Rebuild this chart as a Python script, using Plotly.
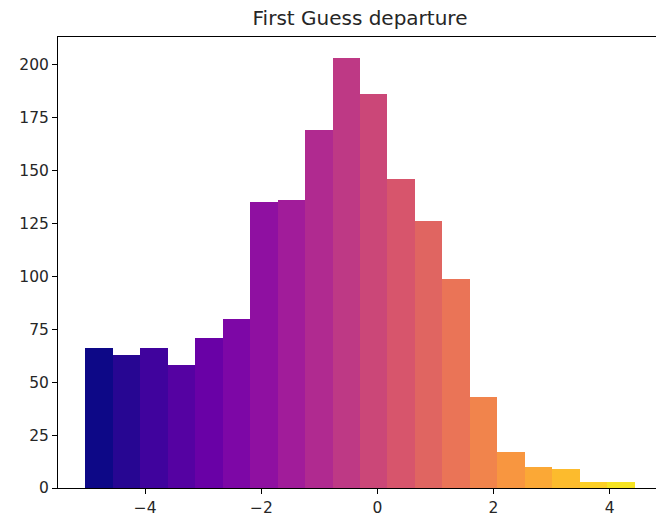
import numpy as np
import plotly.graph_objects as go
from plotly.colors import sample_colorscale

# Data
counts = [66, 63, 66, 58, 71, 80, 135, 136, 169, 203, 186, 146, 126, 99, 43, 17, 10, 9, 3, 3]
edge_min = -5.03
edge_max = 4.43
x_ticks = [-4, -2, 0, 2, 4]
x_tick_labels = ["−4", "−2", "0", "2", "4"]
y_ticks = [0, 25, 50, 75, 100, 125, 150, 175, 200]
title_text = "First Guess departure"

edges = np.linspace(edge_min, edge_max, len(counts) + 1)
centers = (edges[:-1] + edges[1:]) / 2
widths = np.diff(edges)
norm = [i / len(counts) for i in range(len(counts))]
colors = sample_colorscale("Plasma", norm)

binw = widths[0]
x_lo = edge_min - binw
# matplotlib-like 5% margin; plot is cropped on the right in the reference
x_hi = x_lo + (edge_max + binw - x_lo) * 598 / 604

fig = go.Figure(go.Bar(
    x=centers, y=counts, width=widths,
    marker=dict(color=colors, line=dict(width=0)),
    hoverinfo="x+y",
))

font = dict(family="DejaVu Sans", size=15.5, color="#262626")
fig.update_layout(
    width=656, height=515,
    margin=dict(l=58, r=0, t=37, b=27, autoexpand=False),
    paper_bgcolor="white", plot_bgcolor="white",
    showlegend=False, bargap=0,
    font=font,
    title=dict(text=title_text, x=(360 - 58) / 598, xref="paper", xanchor="center",
               y=1 - 18 / 515, yanchor="middle",
               font=dict(family="DejaVu Sans", size=20, color="#262626")),
)
fig.update_xaxes(
    range=[x_lo, x_hi], tickvals=x_ticks, ticktext=x_tick_labels, automargin=False,
    showgrid=False, zeroline=False, showline=True, linecolor="black", linewidth=1,
    mirror=True, ticks="outside", ticklen=5, tickcolor="black", tickfont=font,
)
fig.update_yaxes(
    range=[0, max(counts) * 1.05], tickvals=y_ticks, automargin=False,
    showgrid=False, zeroline=False, showline=True, linecolor="black", linewidth=1,
    ticks="outside", ticklen=5, tickcolor="black", tickfont=font,
)
fig.write_html(
    "out.html",
    config={"displayModeBar": False},
    post_script="document.body.style.margin='0';document.body.style.overflow='hidden';",
)
